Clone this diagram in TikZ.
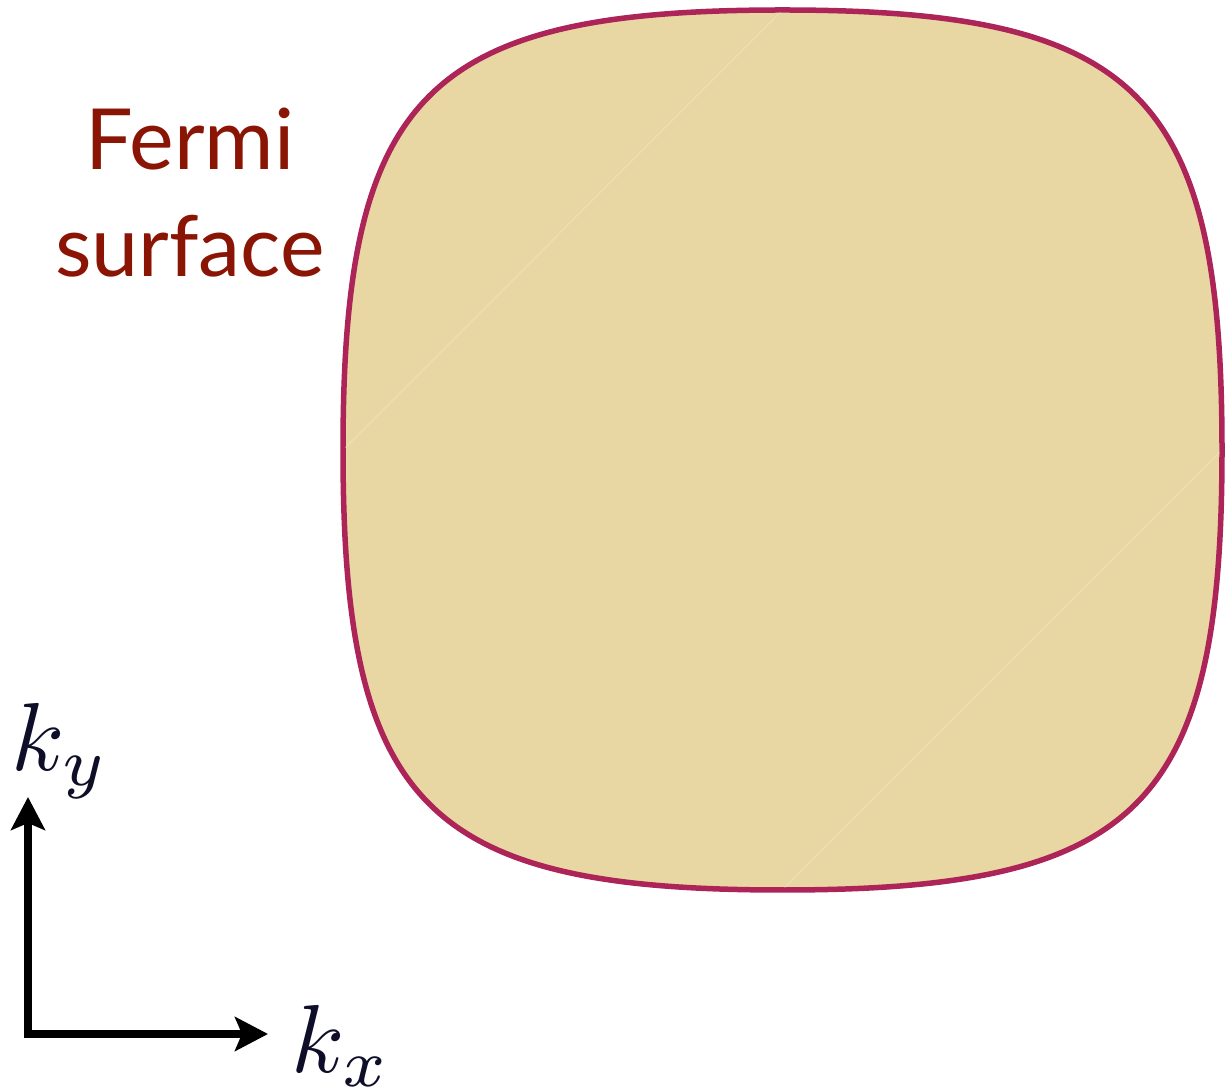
\documentclass[tikz,border=0pt]{standalone}
\usepackage{fontspec}
\newfontfamily\labelfont{Lato}
\usetikzlibrary{arrows.meta}

\definecolor{fsfill}{RGB}{232,215,162}
\definecolor{fsline}{RGB}{173,36,88}
\definecolor{fstext}{RGB}{138,21,5}
\definecolor{axtext}{RGB}{14,14,40}

\begin{document}
\begin{tikzpicture}[line cap=round, line join=round, >=Stealth]
		\useasboundingbox (0,0) rectangle (24.5,21.82);
		% fermi surface
		\coordinate (W) at (6.86,12.82);
		\coordinate (N) at (15.65,21.62);
		\coordinate (E) at (24.44,12.82);
		\coordinate (S) at (15.65,4.02);
		\draw [fsline, fill=fsfill, line width=0.11cm] (W) .. controls +(0,7.13) and +(-7.13,0) .. (N)
			.. controls +(7.13,0) and +(0,7.13) .. (E)
			.. controls +(0,-7.13) and +(7.13,0) .. (S)
			.. controls +(-7.13,0) and +(0,-7.13) .. (W) -- cycle;
		% seams
		\draw [white, opacity=0.35, line width=0.4pt, shorten <=0.06cm, shorten >=0.06cm] (W) -- (N);
		\draw [white, opacity=0.35, line width=0.4pt, shorten <=0.06cm, shorten >=0.06cm] (S) -- (E);
		% axis
		\coordinate (O) at (0.56,1.14);
		\coordinate (Ytip) at (0.56,5.88);
		\coordinate (Xtip) at (5.36,1.14);
		\draw [line width=0.17cm, line cap=butt, line join=miter, {Stealth[length=0.66cm,width=0.68cm,inset=0.14cm]}-{Stealth[length=0.66cm,width=0.68cm,inset=0.14cm]}] (Ytip) |- (Xtip);
		% symbols
		\node (ky) [anchor=base west, inner sep=0, text=axtext, scale=5.5] at (0.2,6.4) {$k_y$};
		\node (kx) [anchor=base west, inner sep=0, text=axtext, scale=5.5] at (5.8,0.38) {$k_x$};
		\node (fs) [anchor=base, align=center, inner sep=0, text=fstext, font=\labelfont\fontsize{48}{61}\selectfont] at (3.8,16.28) {Fermi\\surface};
	\end{tikzpicture}
\end{document}
